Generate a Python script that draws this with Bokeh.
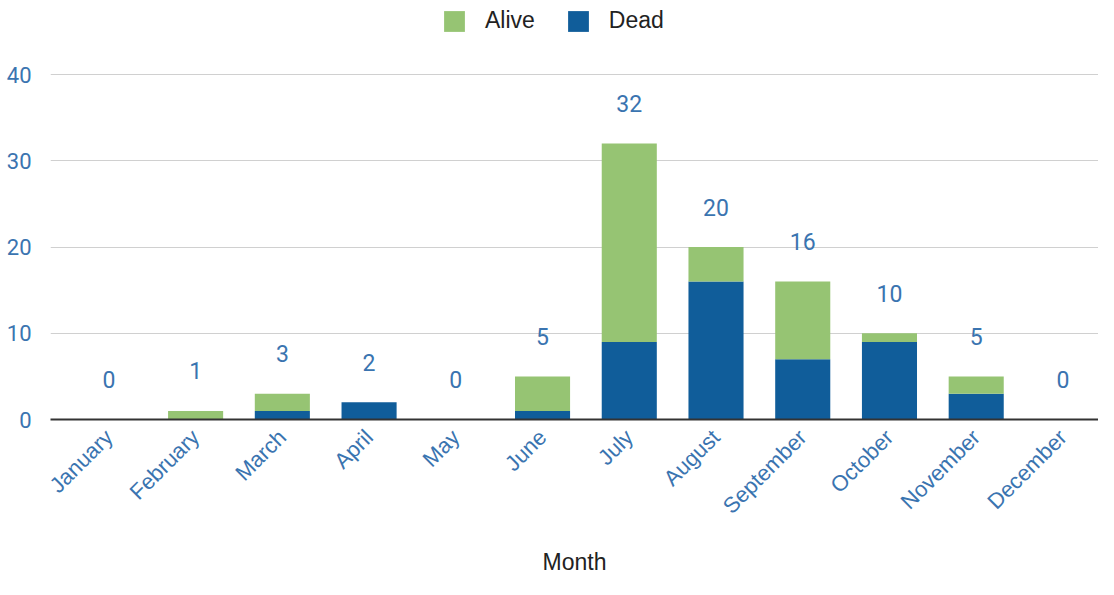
import math
from bokeh.plotting import figure
from bokeh.models import ColumnDataSource, Range1d, FixedTicker, Legend, LegendItem
from bokeh.core.properties import value
from bokeh.embed import file_html
from bokeh.resources import INLINE

months = ["January", "February", "March", "April", "May", "June", "July",
          "August", "September", "October", "November", "December"]
dead = [0, 0, 1, 2, 0, 1, 9, 16, 7, 9, 3, 0]
alive = [0, 1, 2, 0, 0, 4, 23, 4, 9, 1, 2, 0]
y_ticks = [0, 10, 20, 30, 40]

idx = list(range(len(months)))
totals = [d + a for d, a in zip(dead, alive)]
src = ColumnDataSource(dict(x=idx, month=months, Dead=dead, Alive=alive,
                            total=totals, label=[str(t) for t in totals]))

GREEN = "#96c473"
BLUE = "#105d9a"
TICK = "#3a74b0"

p = figure(width=1098, height=579, output_backend="svg", toolbar_location=None,
           x_range=Range1d(-0.673, 11.41), y_range=Range1d(0, 48.58),
           min_border_left=50, min_border_right=0, min_border_top=0,
           min_border_bottom=160)
p.outline_line_color = None

r = p.vbar_stack(["Dead", "Alive"], x="x", width=0.635, source=src,
                 color=[BLUE, GREEN], line_color=None)

p.text(x="x", y="total", text="label", source=src, y_offset=-40,
       text_align="center", text_baseline="middle", text_color=TICK,
       text_font=value("Roboto"), text_font_size="23px")

# axes
p.xaxis.ticker = FixedTicker(ticks=idx)
p.xaxis.major_label_overrides = {i: m for i, m in zip(idx, months)}
p.xaxis.major_label_orientation = math.pi / 4
p.xaxis.major_label_text_color = TICK
p.xaxis.major_label_text_font = "Liberation Sans"
p.xaxis.major_label_text_font_size = "22px"
p.xaxis.major_tick_line_color = None
p.xaxis.minor_tick_line_color = None
p.xaxis.axis_line_color = "#333333"
p.xaxis.axis_line_width = 2
p.xaxis.axis_label = "Month"
p.xaxis.axis_label_text_font = "Liberation Sans"
p.xaxis.axis_label_text_font_style = "normal"
p.xaxis.axis_label_text_font_size = "23px"
p.xaxis.axis_label_text_color = "#222222"
p.xaxis.axis_label_standoff = 19
p.xaxis.major_label_standoff = 8

p.yaxis.ticker = FixedTicker(ticks=y_ticks)
p.yaxis.major_label_text_color = TICK
p.yaxis.major_label_text_font = "Roboto"
p.yaxis.major_label_text_font_size = "22px"
p.yaxis.major_tick_line_color = None
p.yaxis.minor_tick_line_color = None
p.yaxis.axis_line_color = None
p.yaxis.major_label_standoff = 13

p.xgrid.grid_line_color = None
p.ygrid.grid_line_color = "#d0d0d0"
p.ygrid.grid_line_width = 1

legend = Legend(items=[LegendItem(label="Alive", renderers=[r[1]]),
                       LegendItem(label="Dead", renderers=[r[0]])],
                orientation="horizontal", location=(391, 385),
                glyph_width=26, glyph_height=26, label_standoff=18,
                spacing=30, padding=0, margin=0,
                label_text_font="Liberation Sans", label_text_font_size="23px",
                label_text_color="#222222", border_line_color=None,
                background_fill_alpha=0)
p.add_layout(legend, "center")

open("out.html", "w").write(file_html(p, INLINE))
